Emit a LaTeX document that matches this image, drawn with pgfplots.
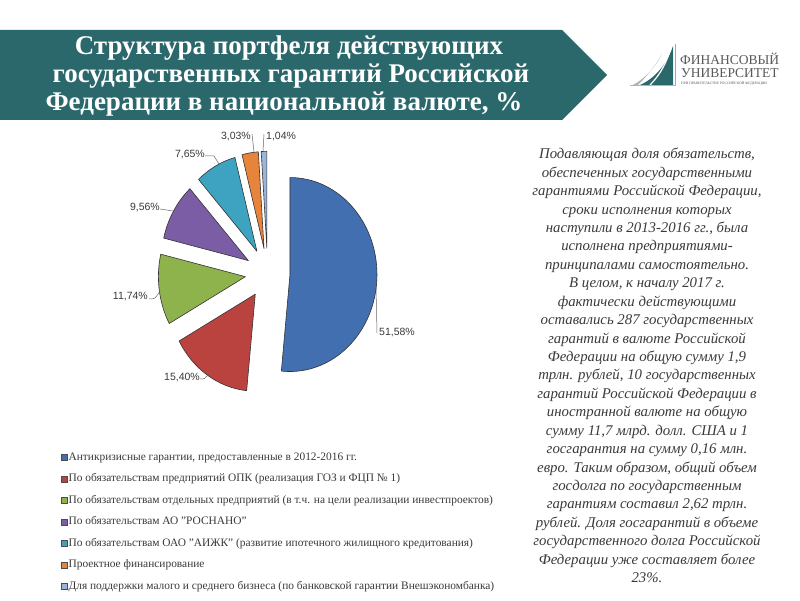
\documentclass[border=0pt]{standalone}
\usepackage{fontspec}
\setmainfont{Liberation Serif}
\newfontfamily\labelfont{Liberation Sans}
\usepackage{pgfplots}
\usepackage{pgfplotstable}
\pgfplotsset{compat=1.18}

\definecolor{banner}{RGB}{43,104,108}
\definecolor{c0}{RGB}{66,111,176}
\definecolor{c1}{RGB}{186,67,63}
\definecolor{c2}{RGB}{142,178,76}
\definecolor{c3}{RGB}{123,93,165}
\definecolor{c4}{RGB}{62,163,192}
\definecolor{c5}{RGB}{230,132,60}
\definecolor{c6}{RGB}{155,180,216}
\definecolor{txt}{RGB}{58,58,58}
\newcommand\fs[2]{\fontsize{#1}{#2}\selectfont}

% shares of the portfolio, %; label position (slide px, y up) and anchor
\pgfplotstableread{
share lx  ly  anc
51.58 378 267 west
15.40 201 222 east
11.74 149 303 east
9.56  161 392 east
7.65  206 445 east
3.03  252 463 east
1.04  265 463 west
}\piedata

% pie geometry: centre, radii (slightly squashed)
\def\cx{267.6}\def\cy{326.7}\def\rx{87}\def\ry{97}

\begin{document}
\begin{tikzpicture}
\def\cum{0}
\pgfplotsforeachungrouped \i in {0,...,6}{%
  \pgfplotstablegetelem{\i}{share}\of\piedata \let\val\pgfplotsretval
  \pgfmathsetmacro\s{90-3.6*\cum}%
  \pgfmathsetmacro\e{\s-3.6*\val}%
  \pgfmathsetmacro\m{(\s+\e)/2}%
  \pgfmathsetmacro\px{\cx+22.4*cos(\m)}%
  \pgfmathsetmacro\py{\cy+25*sin(\m)}%
  \pgfmathsetmacro\qx{\px+\rx*cos(\s)}%
  \pgfmathsetmacro\qy{\py+\ry*sin(\s)}%
  \expandafter\xdef\csname pS\i\endcsname{\s}%
  \expandafter\xdef\csname pE\i\endcsname{\e}%
  \expandafter\xdef\csname pX\i\endcsname{\px}%
  \expandafter\xdef\csname pY\i\endcsname{\py}%
  \expandafter\xdef\csname qX\i\endcsname{\qx}%
  \expandafter\xdef\csname qY\i\endcsname{\qy}%
  \expandafter\xdef\csname V\i\endcsname{\val}%
  \pgfplotstablegetelem{\i}{lx}\of\piedata
  \expandafter\xdef\csname lX\i\endcsname{\pgfplotsretval}%
  \pgfplotstablegetelem{\i}{ly}\of\piedata
  \expandafter\xdef\csname lY\i\endcsname{\pgfplotsretval}%
  \pgfplotstablegetelem{\i}{anc}\of\piedata
  \expandafter\xdef\csname lA\i\endcsname{\pgfplotsretval}%
  \pgfmathsetmacro\cum{\cum+\val}%
}
\begin{axis}[
  x=1pt, y=1pt,
  xmin=0, xmax=800, ymin=0, ymax=600,
  hide axis, clip=false,
  legend cell align=left,
  legend image code/.code={\draw[#1] (0pt,-3pt) rectangle (6pt,3pt);},
  legend style={
    at={(0.07625,0.2483)}, anchor=north west,
    draw=none, fill=none, inner sep=0pt,
    font=\fs{11.4}{12}, text=txt,
    row sep=9.5pt,
    nodes={inner sep=1pt, text height=8pt, text depth=2pt},
  },
]
% background
\fill[white] (axis cs:0,0) rectangle (axis cs:800,600);

% header banner
\fill[banner] (axis cs:0,570) -- (axis cs:562,570) -- (axis cs:607,525)
  -- (axis cs:562,480) -- (axis cs:0,480) -- cycle;
\begin{scope}[every node/.style={text=white, font=\bfseries\fs{27}{28}, inner sep=0pt, anchor=base}]
\node at (axis cs:289,545) {Структура портфеля действующих};
\node at (axis cs:291,517) {государственных гарантий Российской};
\node at (axis cs:284,489) {Федерации в национальной валюте, \%};
\end{scope}

% logo
\fill[banner] (axis cs:640,515) .. controls (axis cs:656,522) and (axis cs:668,538) .. (axis cs:673,554)
  -- (axis cs:673,515) -- cycle;
\fill[gray!60] (axis cs:633,515) .. controls (axis cs:646,522) and (axis cs:656,534) .. (axis cs:662,546)
  .. controls (axis cs:654,532) and (axis cs:645,522) .. (axis cs:638,515) -- cycle;
\draw[white, line width=1.2pt] (axis cs:650,515) .. controls (axis cs:660,525) and (axis cs:667,538) .. (axis cs:670,550);
\draw[gray!70, line width=0.6pt] (axis cs:675,556) -- (axis cs:675,515);
\draw[gray!60, line width=0.5pt] (axis cs:630,515) -- (axis cs:676,515);
\begin{scope}[every node/.style={text=black!65, inner sep=0pt, anchor=base west}]
\node[font=\fs{13.5}{14}] at (axis cs:680,535) {ФИНАНСОВЫЙ};
\node[font=\fs{13.5}{14}] at (axis cs:681,522) {УНИВЕРСИТЕТ};
\node[font=\fs{3.6}{4}] at (axis cs:681,515) {ПРИ ПРАВИТЕЛЬСТВЕ РОССИЙСКОЙ ФЕДЕРАЦИИ};
\end{scope}

% pie slices
\pgfplotsinvokeforeach{0,...,6}{
  \filldraw[fill=c#1, draw=black!80, line width=0.6pt, line join=round]
    (axis cs:\csname pX#1\endcsname,\csname pY#1\endcsname)
    -- (axis cs:\csname qX#1\endcsname,\csname qY#1\endcsname)
    arc[start angle=\csname pS#1\endcsname, end angle=\csname pE#1\endcsname,
        x radius=\rx pt, y radius=\ry pt] -- cycle;
  \node[anchor=\csname lA#1\endcsname, inner sep=1pt, text=txt, font=\labelfont\fs{10.5}{12}]
    at (axis cs:\csname lX#1\endcsname,\csname lY#1\endcsname)
    {\pgfmathprintnumber[fixed, fixed zerofill, precision=2, use comma, assume math mode=true]{\csname V#1\endcsname}\%};
}
% leader lines
\begin{scope}[draw=black!60, line width=0.5pt]
\draw (axis cs:376,312) -- (axis cs:377,267);
\draw (axis cs:200,221) .. controls (axis cs:205,221) .. (axis cs:209,227);
\draw (axis cs:149,301) .. controls (axis cs:155,301) .. (axis cs:160,309);
\draw (axis cs:160,391) -- (axis cs:173,389);
\draw (axis cs:205,444) -- (axis cs:214,444) -- (axis cs:219,436);
\draw (axis cs:252,466) -- (axis cs:254,448);
\draw (axis cs:264,466) -- (axis cs:263,449);
\end{scope}

% legend
\addlegendimage{fill=c0, draw=black!70}
\addlegendentry{Антикризисные гарантии, предоставленные в 2012-2016 гг.}
\addlegendimage{fill=c1, draw=black!70}
\addlegendentry{По обязательствам предприятий ОПК (реализация ГОЗ и ФЦП № 1)}
\addlegendimage{fill=c2, draw=black!70}
\addlegendentry{По обязательствам отдельных предприятий (в т.ч. на цели реализации инвестпроектов)}
\addlegendimage{fill=c3, draw=black!70}
\addlegendentry{По обязательствам АО "РОСНАНО"}
\addlegendimage{fill=c4, draw=black!70}
\addlegendentry{По обязательствам ОАО "АИЖК" (развитие ипотечного жилищного кредитования)}
\addlegendimage{fill=c5, draw=black!70}
\addlegendentry{Проектное финансирование}
\addlegendimage{fill=c6, draw=black!70}
\addlegendentry{Для поддержки малого и среднего бизнеса (по банковской гарантии Внешэкономбанка)}

% commentary
\node[anchor=north, align=center, inner sep=0pt, text=txt, font=\itshape\fs{14.8}{18.43}]
  at (axis cs:647,452) {Подавляющая доля обязательств,\\
обеспеченных государственными\\
гарантиями Российской Федерации,\\
сроки исполнения которых\\
наступили в 2013-2016 гг., была\\
исполнена предприятиями-\\
принципалами самостоятельно.\\
В целом, к началу 2017 г.\\
фактически действующими\\
оставались 287 государственных\\
гарантий в валюте Российской\\
Федерации на общую сумму 1,9\\
трлн. рублей, 10 государственных\\
гарантий Российской Федерации в\\
иностранной валюте на общую\\
сумму 11,7 млрд. долл. США и 1\\
госгарантия на сумму 0,16 млн.\\
евро. Таким образом, общий объем\\
госдолга по государственным\\
гарантиям составил 2,62 трлн.\\
рублей. Доля госгарантий в объеме\\
государственного долга Российской\\
Федерации уже составляет более\\
23\%.};
\end{axis}
\end{tikzpicture}
\end{document}
